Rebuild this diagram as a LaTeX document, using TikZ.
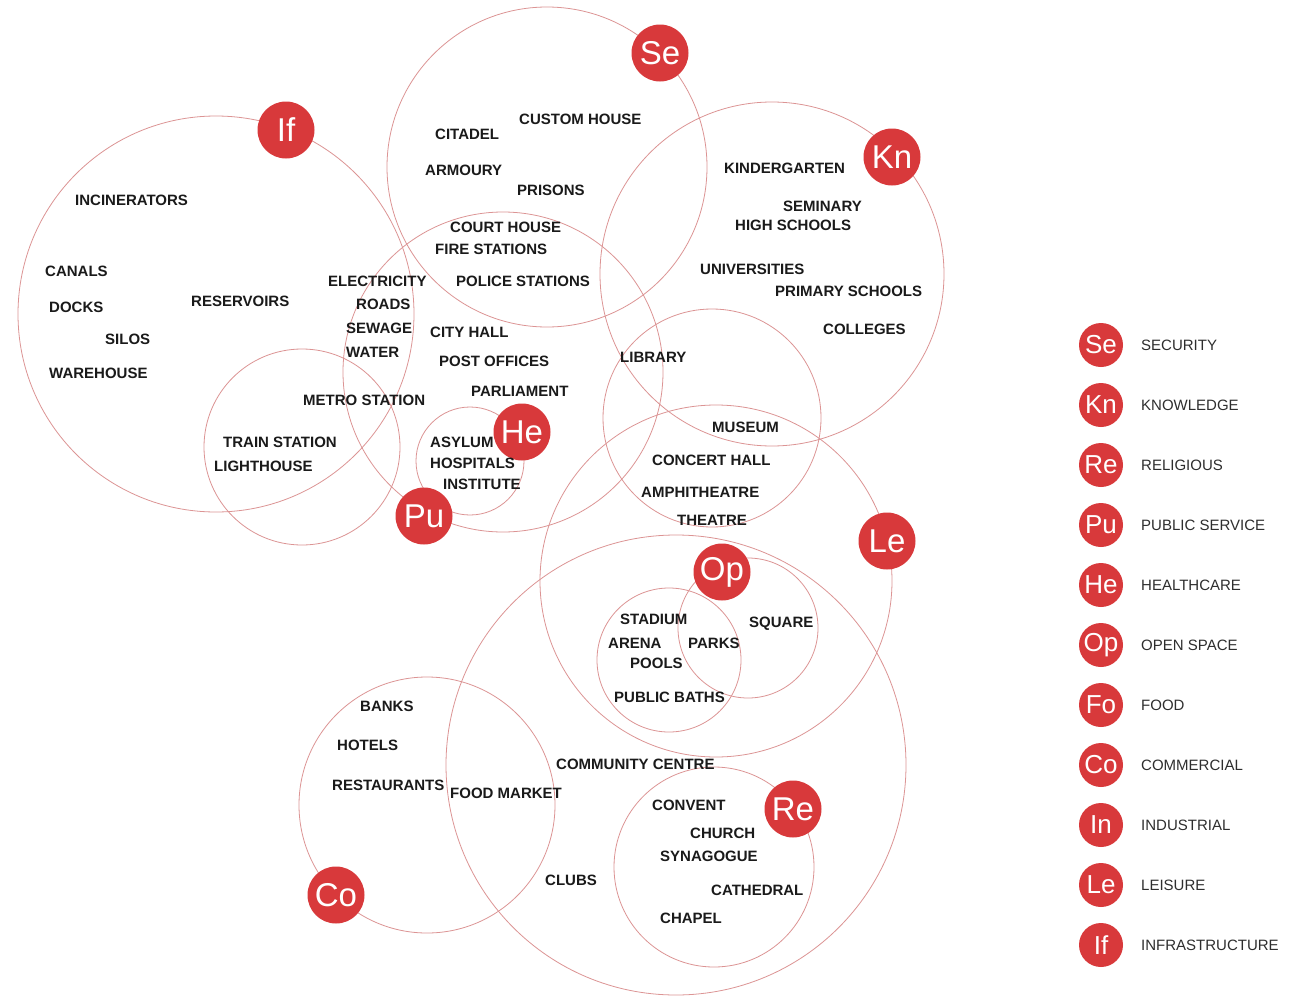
\documentclass[tikz,border=0pt]{standalone}
\usepackage{fontspec}
\setmainfont{Liberation Sans}
\definecolor{badgered}{HTML}{D8393B}
\definecolor{ringred}{HTML}{DC9494}
\definecolor{ink}{HTML}{1A1A1A}
\definecolor{leggray}{HTML}{2E2E2E}
\begin{document}
\begin{tikzpicture}[x=1pt,y=-1pt,
 ring/.style={circle, draw=ringred, line width=0.8pt, inner sep=0pt, minimum size=#1},
 badge/.style={circle, fill=badgered, inner sep=0pt, minimum size=57pt, text=white, font=\fontsize{33}{33}\selectfont},
 lbadge/.style={circle, fill=badgered, inner sep=0pt, minimum size=44pt, text=white, font=\fontsize{26}{26}\selectfont},
 lab/.style={anchor=west, inner sep=0pt, text=ink, text height=10.7pt, text depth=0pt, font=\fontsize{15}{15}\selectfont\bfseries},
 leg/.style={anchor=west, inner sep=0pt, text=leggray, text height=10.7pt, text depth=0pt, font=\fontsize{15}{15}\selectfont}]
\useasboundingbox (0,0) rectangle (1302,996);
\fill[white] (0,0) rectangle (1302,996);
% rings
\node[ring=396pt] (cIf) at (216,314) {};
\node[ring=320pt] (cSe) at (547,167) {};
\node[ring=344pt] (cKn) at (772,274) {};
\node[ring=320pt] (cPu) at (503,372) {};
\node[ring=196pt] (cTr) at (302,447) {};
\node[ring=108pt] (cHe) at (470,461) {};
\node[ring=218pt] (cLi) at (712,418) {};
\node[ring=352pt] (cLe) at (716,581) {};
\node[ring=460pt] (cBig) at (676,765) {};
\node[ring=140pt] (cSq) at (748,628) {};
\node[ring=144pt] (cSt) at (669,660) {};
\node[ring=200pt] (cRe) at (714,867) {};
\node[ring=256pt] (cCo) at (427,805) {};
% badges
\node[badge] (bSe) at (660,53) {Se};
\node[badge] (bIf) at (286,130) {If};
\node[badge] (bKn) at (892,157) {Kn};
\node[badge] (bHe) at (522,432) {He};
\node[badge] (bPu) at (424,516) {Pu};
\node[badge] (bLe) at (887,541) {Le};
\node[badge] (bOp) at (722,572) {Op};
\node[badge] (bRe) at (793,809) {Re};
\node[badge] (bCo) at (336,895) {Co};
% labels
\node[lab] (l1) at (519,119) {CUSTOM HOUSE};
\node[lab] (l2) at (435,134) {CITADEL};
\node[lab] (l3) at (425,170) {ARMOURY};
\node[lab] (l4) at (517,190) {PRISONS};
\node[lab] (l5) at (450,227) {COURT HOUSE};
\node[lab] (l6) at (435,249) {FIRE STATIONS};
\node[lab] (l7) at (456,281) {POLICE STATIONS};
\node[lab] (l8) at (328,281) {ELECTRICITY};
\node[lab] (l9) at (356,304) {ROADS};
\node[lab] (l10) at (346,328) {SEWAGE};
\node[lab] (l11) at (346,352) {WATER};
\node[lab] (l12) at (430,332) {CITY HALL};
\node[lab] (l13) at (439,361) {POST OFFICES};
\node[lab] (l14) at (471,391) {PARLIAMENT};
\node[lab] (l15) at (303,400) {METRO STATION};
\node[lab] (l16) at (223,442) {TRAIN STATION};
\node[lab] (l17) at (214,466) {LIGHTHOUSE};
\node[lab] (l18) at (430,442) {ASYLUM};
\node[lab] (l19) at (430,463) {HOSPITALS};
\node[lab] (l20) at (443,484) {INSTITUTE};
\node[lab] (l21) at (75,200) {INCINERATORS};
\node[lab] (l22) at (45,271) {CANALS};
\node[lab] (l23) at (49,307) {DOCKS};
\node[lab] (l24) at (105,339) {SILOS};
\node[lab] (l25) at (49,373) {WAREHOUSE};
\node[lab] (l26) at (191,301) {RESERVOIRS};
\node[lab] (l27) at (724,168) {KINDERGARTEN};
\node[lab] (l28) at (783,206) {SEMINARY};
\node[lab] (l29) at (735,225) {HIGH SCHOOLS};
\node[lab] (l30) at (700,269) {UNIVERSITIES};
\node[lab] (l31) at (775,291) {PRIMARY SCHOOLS};
\node[lab] (l32) at (823,329) {COLLEGES};
\node[lab] (l33) at (620,357) {LIBRARY};
\node[lab] (l34) at (712,427) {MUSEUM};
\node[lab] (l35) at (652,460) {CONCERT HALL};
\node[lab] (l36) at (641,492) {AMPHITHEATRE};
\node[lab] (l37) at (677,520) {THEATRE};
\node[lab] (l38) at (620,619) {STADIUM};
\node[lab] (l39) at (608,643) {ARENA};
\node[lab] (l40) at (688,643) {PARKS};
\node[lab] (l41) at (630,663) {POOLS};
\node[lab] (l42) at (614,697) {PUBLIC BATHS};
\node[lab] (l43) at (749,622) {SQUARE};
\node[lab] (l44) at (360,706) {BANKS};
\node[lab] (l45) at (337,745) {HOTELS};
\node[lab] (l46) at (332,785) {RESTAURANTS};
\node[lab] (l47) at (450,793) {FOOD MARKET};
\node[lab] (l48) at (556,764) {COMMUNITY CENTRE};
\node[lab] (l49) at (545,880) {CLUBS};
\node[lab] (l50) at (652,805) {CONVENT};
\node[lab] (l51) at (690,833) {CHURCH};
\node[lab] (l52) at (660,856) {SYNAGOGUE};
\node[lab] (l53) at (711,890) {CATHEDRAL};
\node[lab] (l54) at (660,918) {CHAPEL};
% legend
\node[lbadge] (gSe) at (1101,345) {Se};
\node[lbadge] (gKn) at (1101,405) {Kn};
\node[lbadge] (gRe) at (1101,465) {Re};
\node[lbadge] (gPu) at (1101,525) {Pu};
\node[lbadge] (gHe) at (1101,585) {He};
\node[lbadge] (gOp) at (1101,645) {Op};
\node[lbadge] (gFo) at (1101,705) {Fo};
\node[lbadge] (gCo) at (1101,765) {Co};
\node[lbadge] (gIn) at (1101,825) {In};
\node[lbadge] (gLe) at (1101,885) {Le};
\node[lbadge] (gIf) at (1101,945) {If};
\node[leg] (tSe) at (1141,345) {SECURITY};
\node[leg] (tKn) at (1141,405) {KNOWLEDGE};
\node[leg] (tRe) at (1141,465) {RELIGIOUS};
\node[leg] (tPu) at (1141,525) {PUBLIC SERVICE};
\node[leg] (tHe) at (1141,585) {HEALTHCARE};
\node[leg] (tOp) at (1141,645) {OPEN SPACE};
\node[leg] (tFo) at (1141,705) {FOOD};
\node[leg] (tCo) at (1141,765) {COMMERCIAL};
\node[leg] (tIn) at (1141,825) {INDUSTRIAL};
\node[leg] (tLe) at (1141,885) {LEISURE};
\node[leg] (tIf) at (1141,945) {INFRASTRUCTURE};
\end{tikzpicture}
\end{document}
